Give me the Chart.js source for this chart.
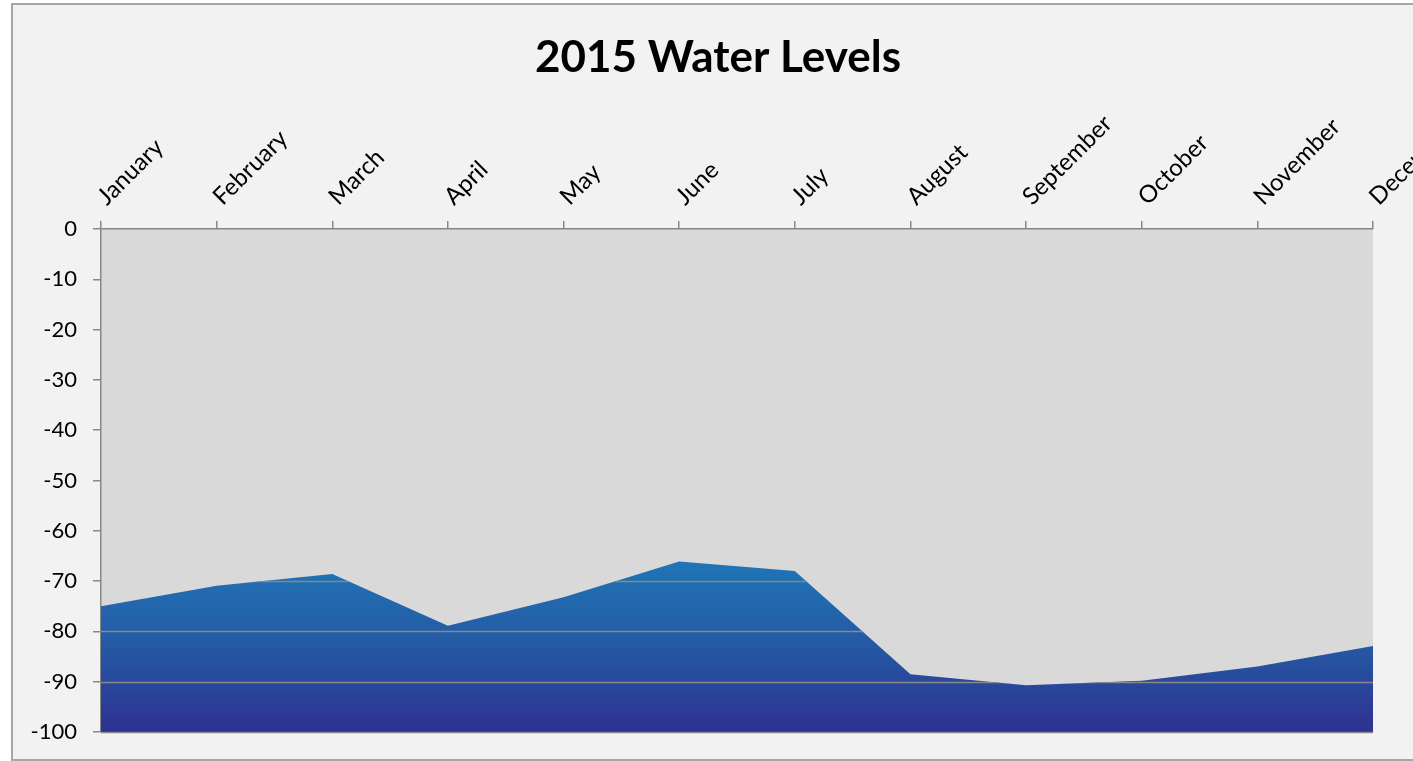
<!DOCTYPE html>
<html>
<head>
<meta charset="utf-8">
<title>2015 Water Levels</title>
<script src="https://cdn.jsdelivr.net/npm/chart.js@4.4.1/dist/chart.umd.min.js"></script>
<style>
  html, body { margin: 0; padding: 0; background: #ffffff; overflow: hidden; }
  #frame {
    position: absolute; left: 11px; top: 3px;
    width: 1410px; height: 754px;
    border: 2px solid #a6a6a6; background: #f2f2f2;
  }
</style>
</head>
<body>
<div id="frame"><canvas id="waterChart"></canvas></div>
<script>
/* data */
const months = ["January", "February", "March", "April", "May", "June",
  "July", "August", "September", "October", "November", "December"];
const waterLevels = [-75.0, -70.9, -68.6, -78.9, -73.2, -66.1,
  -68.0, -88.5, -90.7, -89.8, -87.0, -82.9];
const levelTicks = [0, -10, -20, -30, -40, -50, -60, -70, -80, -90, -100];

const FONT = "Lato, 'Open Sans', sans-serif";

/* grey plot area */
const plotBackground = {
  id: "plotBackground",
  beforeDraw(chart) {
    const { ctx, chartArea } = chart;
    ctx.save();
    ctx.fillStyle = "#d9d9d9";
    ctx.fillRect(chartArea.left, chartArea.top, chartArea.width, chartArea.height);
    ctx.restore();
  }
};

/* gridlines only show over the filled area (like the excel original) */
const areaGridlines = {
  id: "areaGridlines",
  afterDatasetsDraw(chart) {
    const { ctx, chartArea, scales } = chart;
    const pts = chart.getDatasetMeta(0).data;
    if (!pts.length) return;
    ctx.save();
    ctx.beginPath();
    ctx.moveTo(pts[0].x, chartArea.bottom + 2);
    pts.forEach(p => ctx.lineTo(p.x, p.y));
    ctx.lineTo(pts[pts.length - 1].x, chartArea.bottom + 2);
    ctx.closePath();
    ctx.clip();
    ctx.strokeStyle = "#888888";
    ctx.lineWidth = 1.5;
    levelTicks.forEach(v => {
      const y = Math.round(scales.y.getPixelForValue(v)) + 0.5;
      ctx.beginPath();
      ctx.moveTo(chartArea.left, y);
      ctx.lineTo(chartArea.right, y);
      ctx.stroke();
    });
    ctx.restore();
  }
};

function waterGradient(context) {
  const { chart } = context;
  const { chartArea, scales } = chart;
  if (!chartArea) return "#2563a8";
  const top = scales.y.getPixelForValue(Math.max(...waterLevels));
  const g = chart.ctx.createLinearGradient(0, top, 0, chartArea.bottom);
  g.addColorStop(0, "#1f75b6");
  g.addColorStop(0.5, "#2558a3");
  g.addColorStop(1, "#2e3192");
  return g;
}

new Chart(document.getElementById("waterChart"), {
  type: "line",
  data: {
    labels: months,
    datasets: [{
      data: waterLevels,
      fill: "start",
      backgroundColor: waterGradient,
      borderWidth: 0,
      pointRadius: 0,
      tension: 0
    }]
  },
  options: {
    responsive: true,
    maintainAspectRatio: false,
    animation: false,
    layout: { padding: { left: 0, right: 0, top: 0, bottom: 27 } },
    plugins: {
      legend: { display: false },
      tooltip: { enabled: false },
      title: {
        display: true,
        text: "2015 Water Levels",
        color: "#000000",
        font: { family: FONT, size: 44, weight: "bold", lineHeight: 1.2 },
        padding: { top: 26, bottom: 0 }
      }
    },
    scales: {
      x: {
        position: "top",
        offset: false,
        grid: { drawOnChartArea: false, drawTicks: true, tickLength: 8, tickColor: "#888888", lineWidth: 1.5 },
        border: { display: true, color: "#888888", width: 1.5 },
        ticks: {
          autoSkip: false,
          minRotation: 45,
          maxRotation: 45,
          padding: 10,
          labelOffset: 21,
          color: "#000000",
          font: { family: FONT, size: 24 }
        },
        afterFit(scale) {
          scale.height = 145.2;
          scale.paddingLeft = 0;
          scale.paddingRight = 50;
        }
      },
      y: {
        min: -100,
        max: 0,
        grid: { drawOnChartArea: false, drawTicks: true, tickLength: 8, tickColor: "#888888", lineWidth: 1.5 },
        border: { display: true, color: "#888888", width: 1.5 },
        ticks: {
          stepSize: 10,
          padding: 16,
          color: "#000000",
          font: { family: FONT, size: 22 }
        },
        afterFit(scale) {
          scale.width = 88;
          scale.paddingTop = 0;
          scale.paddingBottom = 0;
        }
      }
    }
  },
  plugins: [plotBackground, areaGridlines]
});
</script>
</body>
</html>
